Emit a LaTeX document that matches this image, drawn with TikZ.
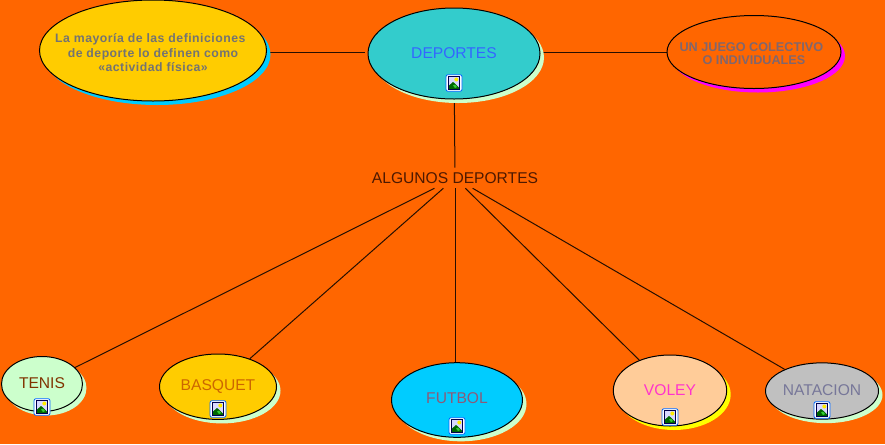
\documentclass[tikz,border=0pt]{standalone}
\usepackage{fontspec}
\setmainfont{Liberation Sans}
\newfontfamily\spacedbold[LetterSpace=4,BoldFont={Liberation Sans Bold}]{Liberation Sans}
\usetikzlibrary{shapes.geometric,shadows,backgrounds}
\definecolor{bgor}{HTML}{FF6600}
\definecolor{mint}{HTML}{CCFFCC}
\definecolor{gold}{HTML}{FFCC00}
\definecolor{teal}{HTML}{33CCCC}
\definecolor{sky}{HTML}{00CCFF}
\definecolor{peach}{HTML}{FFCC99}
\definecolor{silverg}{HTML}{C0C0C0}
\definecolor{magn}{HTML}{FF00FF}
\definecolor{yell}{HTML}{FFFF00}
\newcommand\basetxt[2]{\raisebox{#1}[0pt][0pt]{#2}}
\tikzset{
  x=0.75pt,y=-0.75pt,
  bub/.style n args={4}{ellipse,draw=black,line width=0.75pt,inner sep=0pt,align=center,
    minimum width=0.75*#1 pt,minimum height=0.75*#2 pt,fill=#3,
    copy shadow={shadow xshift=3pt,shadow yshift=-3pt,fill=#4,draw=none,opacity=1}},
  conn/.style={draw=black!85!bgor,line width=0.75pt},
  big/.style={font=\fontsize{11.7}{14}\selectfont},
  imgicon/.pic={
    \draw[draw=blue!60!cyan,line width=0.6pt,fill=white,rounded corners=1.5pt] (-8,-8.3) rectangle (8,8.3);
    \fill[fill=blue!15!white] (-5.5,-6.5) rectangle (5.5,6.5);
    \fill[fill=yell!85!orange] (2.3,-3.5) circle[radius=2];
    \fill[fill=green!40!black] (-5.5,6.5) -- (-5.5,3) -- (-1,-1) -- (1,0.5) -- (5.5,5) -- (5.5,6.5) -- cycle;
    \fill[fill=green!60!gray] (-1,2.5) -- (1,1.5) -- (3,4) -- (1,5) -- cycle;
    \draw[draw=blue!30!black,line width=0.75pt] (-5.5,-6.5) rectangle (5.5,6.5);
  }
}
\begin{document}
\begin{tikzpicture}
\useasboundingbox (0,0) rectangle (885,444);
\node[bub={227}{101}{gold}{sky},inner xsep=-16pt,text=gray!90!black,font=\spacedbold\bfseries\fontsize{9.2}{10.7}\selectfont] (def) at (153,50.5)
  {\rule{0pt}{10pt}La mayoría de las definiciones\hspace*{4pt}\\de deporte lo definen como\hspace*{8pt}\\«actividad física»};
\node[bub={172}{91}{teal}{mint},big,text={rgb,255:red,51;green,102;blue,255}] (dep) at (454,53.5) {\basetxt{-3.6pt}{DEPORTES}};
\node[bub={174}{73}{bgor}{magn},inner xsep=-14pt,text={rgb,255:red,128;green,102;blue,110},font=\bfseries\fontsize{9.5}{10.4}\selectfont] (juego) at (754,52)
  {\rule{0pt}{9pt}UN JUEGO COLECTIVO\hspace*{4pt}\\O INDIVIDUALES};
\node[rectangle,inner sep=0pt,minimum width=127.5pt,minimum height=15pt,big,text={rgb,255:red,77;green,25;blue,0}] (alg) at (455,178) {ALGUNOS DEPORTES};
\node[bub={81}{55}{mint}{mint},big,text={rgb,255:red,128;green,51;blue,0}] (tenis) at (42,384) {\basetxt{-3.2pt}{TENIS}};
\node[bub={117}{65.4}{gold}{mint},big,text={rgb,255:red,204;green,102;blue,0}] (basquet) at (218,386.7) {\basetxt{-3.2pt}{BASQUET}};
\node[bub={131}{74.6}{sky}{mint},big,text={rgb,255:red,140;green,90;blue,120}] (futbol) at (457,400) {\basetxt{-2.5pt}{FUTBOL}};
\node[bub={113.4}{71}{peach}{yell},big,text={rgb,255:red,255;green,51;blue,204}] (voley) at (670,390.5) {\basetxt{-3.4pt}{VOLEY}};
\node[bub={113}{56.3}{silverg}{mint},big,text={rgb,255:red,119;green,119;blue,153}] (natacion) at (822,391) {\basetxt{-3pt}{NATACION}};
\begin{scope}[on background layer]
  \fill[bgor] (0,0) rectangle (885,444);
  \draw[conn,shorten >=2.25pt] (def.east |- juego.west) -- (dep.west |- juego.west);
  \draw[conn] (dep.east |- juego.west) -- (juego.west);
  \draw[conn] (dep) -- (alg);
  \draw[conn] (alg) -- (tenis);
  \draw[conn] (alg) -- (basquet);
  \draw[conn] (alg.south) -- (alg.south |- futbol.north);
  \draw[conn] (alg) -- (voley);
  \draw[conn] (alg) -- (natacion);
\end{scope}
\pic at (454,83) {imgicon};
\pic at (42,407) {imgicon};
\pic at (218,409) {imgicon};
\pic at (457,426) {imgicon};
\pic at (670,417) {imgicon};
\pic at (822,410) {imgicon};
\end{tikzpicture}
\end{document}
